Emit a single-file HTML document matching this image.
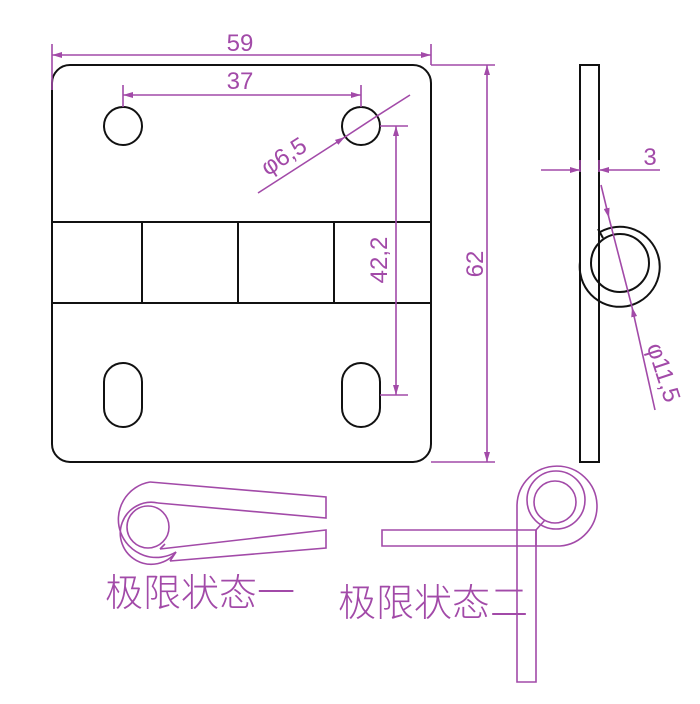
<!DOCTYPE html>
<html><head><meta charset="utf-8"><style>
body{margin:0;background:#fff;width:700px;height:704px;overflow:hidden}
svg{display:block}
text{font-family:"Liberation Sans","Noto Sans CJK SC",sans-serif;fill:#a24aa8}
</style></head><body>
<svg width="700" height="704" viewBox="0 0 700 704">
<defs><marker id="a" viewBox="0 0 10 6" refX="10" refY="3" markerWidth="10" markerHeight="6" orient="auto-start-reverse" markerUnits="userSpaceOnUse"><path d="M0,0L10,3L0,6z" fill="#a24aa8"/></marker></defs>
<g fill="none" stroke="#111" stroke-width="2">
<rect x="52" y="65" width="379" height="397" rx="18"/>
<line x1="52" y1="222" x2="431" y2="222"/><line x1="52" y1="303" x2="431" y2="303"/>
<line x1="142" y1="222" x2="142" y2="303"/><line x1="238" y1="222" x2="238" y2="303"/><line x1="334" y1="222" x2="334" y2="303"/>
<circle cx="123" cy="126" r="19"/><circle cx="361" cy="126" r="19"/>
<rect x="104" y="363" width="38" height="64" rx="19"/><rect x="342" y="363" width="38" height="64" rx="19"/>
<rect x="580" y="65" width="19" height="397"/>
<path d="M600,232 A40,40 0 1 1 580,262" />
<circle cx="620" cy="263" r="29"/>
<line x1="598" y1="229" x2="603" y2="238"/>
</g>
<g fill="none" stroke="#a24aa8" stroke-width="1.6">
<line x1="52" y1="44" x2="52" y2="90"/><line x1="431" y1="44" x2="431" y2="65"/>
<line x1="52" y1="55" x2="431" y2="55" marker-start="url(#a)" marker-end="url(#a)"/>
<line x1="123" y1="85" x2="123" y2="107"/><line x1="361" y1="85" x2="361" y2="107"/>
<line x1="123" y1="95" x2="361" y2="95" marker-start="url(#a)" marker-end="url(#a)"/>
<line x1="431" y1="65" x2="495" y2="65"/><line x1="431" y1="462" x2="495" y2="462"/>
<line x1="487" y1="65" x2="487" y2="462" marker-start="url(#a)" marker-end="url(#a)"/>
<line x1="380" y1="126" x2="408" y2="126"/><line x1="380" y1="395" x2="408" y2="395"/>
<line x1="396" y1="126" x2="396" y2="395" marker-start="url(#a)" marker-end="url(#a)"/>
<line x1="258" y1="193" x2="345" y2="137" marker-end="url(#a)"/>
<line x1="377" y1="116" x2="410" y2="95"/>
<line x1="377" y1="116" x2="345" y2="137" />
<line x1="541" y1="170" x2="580" y2="170" marker-end="url(#a)"/>
<line x1="660" y1="170" x2="599" y2="170" marker-end="url(#a)"/>
<line x1="580" y1="160" x2="580" y2="172"/><line x1="599" y1="160" x2="599" y2="172"/>
<line x1="601" y1="185" x2="609" y2="218" marker-end="url(#a)"/>
<line x1="609" y1="218" x2="632" y2="307"/>
<line x1="655" y1="410" x2="632" y2="307" marker-end="url(#a)"/>
<!-- state 1 -->
<path d="M150,482 L326,497 L326,518 L158,503"/>
<path d="M160,549 L326,530 L326,548 L170,561"/>
<path d="M150,482 A38,38 0 1 0 176,552 L170,561"/>
<path d="M176,552 A31,31 0 1 1 158,503"/>
<circle cx="148" cy="527" r="21"/>
<line x1="160" y1="549" x2="165" y2="544"/>
<!-- state 2 -->
<path d="M382,530 L536,530 L536,546 L382,546 Z"/>
<path d="M517,505 L517,682 L536,682 L536,530"/>
<path d="M536,546 L560,546 A40,40 0 1 0 517,505"/>
<circle cx="556" cy="500" r="29"/>
<circle cx="555" cy="502" r="21"/>
<line x1="536" y1="530" x2="545" y2="520"/>
</g>
<g font-size="24">
<text x="240" y="51" text-anchor="middle">59</text>
<text x="240" y="89" text-anchor="middle">37</text>
<text transform="translate(483,264) rotate(-90)" text-anchor="middle">62</text>
<text transform="translate(387,260) rotate(-90)" text-anchor="middle">42,2</text>
<text transform="translate(288,163) rotate(-33)" text-anchor="middle">φ6,5</text>
<text x="650" y="165" text-anchor="middle">3</text>
<text transform="translate(656,375) rotate(72)" text-anchor="middle">φ11,5</text>
</g>
<g font-size="38" font-weight="300">
<text x="105" y="606">极限状态一</text>
<text x="338" y="616">极限状态二</text>
</g>
</svg>
</body></html>
